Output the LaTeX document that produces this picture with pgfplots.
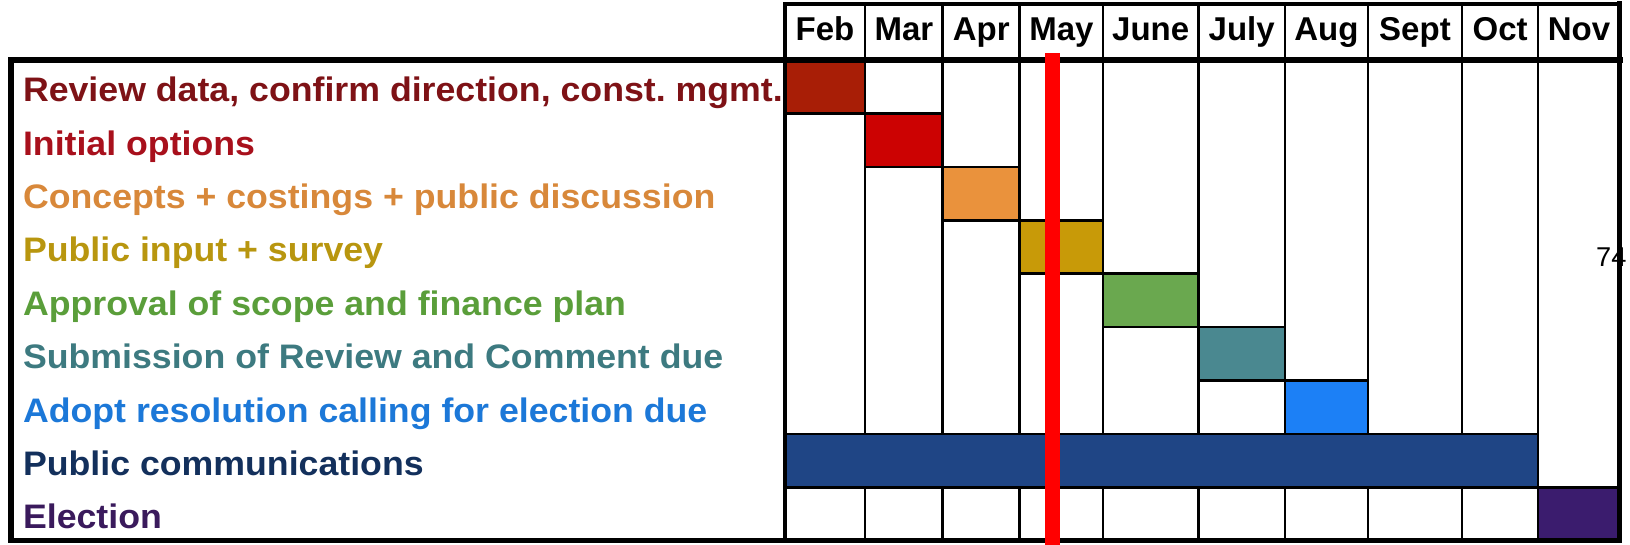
\documentclass[border=0pt]{standalone}
\usepackage{fontspec}
\setmainfont{Liberation Sans}
\newfontfamily\lab[FakeStretch=1.05]{Liberation Sans}
\usepackage{pgfplots}
\pgfplotsset{compat=1.18}
\frenchspacing
\definecolor{b1}{HTML}{A81E06}
\definecolor{b2}{HTML}{CC0202}
\definecolor{b3}{HTML}{EA923C}
\definecolor{b4}{HTML}{C89A08}
\definecolor{b5}{HTML}{6AA84F}
\definecolor{b6}{HTML}{4A8890}
\definecolor{b7}{HTML}{1C80F6}
\definecolor{b8}{HTML}{1F4585}
\definecolor{b9}{HTML}{3B1C6E}
\definecolor{t1}{HTML}{7E1216}
\definecolor{t2}{HTML}{A8101C}
\definecolor{t3}{HTML}{D8883A}
\definecolor{t4}{HTML}{B8960F}
\definecolor{t5}{HTML}{5A9E3A}
\definecolor{t6}{HTML}{3D7A80}
\definecolor{t7}{HTML}{1C78D8}
\definecolor{t8}{HTML}{13305C}
\definecolor{t9}{HTML}{3A1A5C}
\begin{document}
\begin{tikzpicture}
\begin{axis}[x=41.75pt, y=26.7pt, y dir=reverse,
  xmin=0, xmax=10, ymin=-1.05, ymax=9,
  axis lines=none, clip=false, ticks=none]
% column separators
\addplot[black, line width=1.3pt, mark=none] coordinates {(0.96,-1.05) (0.96,9)};
\addplot[black, line width=1.3pt, mark=none] coordinates {(1.89,-1.05) (1.89,9)};
\addplot[black, line width=1.3pt, mark=none] coordinates {(2.81,-1.05) (2.81,9)};
\addplot[black, line width=1.3pt, mark=none] coordinates {(3.81,-1.05) (3.81,9)};
\addplot[black, line width=1.3pt, mark=none] coordinates {(4.95,-1.05) (4.95,9)};
\addplot[black, line width=1.3pt, mark=none] coordinates {(5.99,-1.05) (5.99,9)};
\addplot[black, line width=1.3pt, mark=none] coordinates {(6.98,-1.05) (6.98,9)};
\addplot[black, line width=1.3pt, mark=none] coordinates {(8.11,-1.05) (8.11,9)};
\addplot[black, line width=1.3pt, mark=none] coordinates {(9.02,-1.05) (9.02,9)};
% page number
\node[anchor=base west, inner sep=0pt, font=\fontsize{13.6pt}{15pt}\selectfont] at (axis cs:9.71,3.87) {74};
% task bars
\addplot[fill=b1, draw=black, line width=1.3pt, mark=none] coordinates {(0,0) (0.96,0) (0.96,1) (0,1)} -- cycle;
\addplot[fill=b2, draw=black, line width=1.3pt, mark=none] coordinates {(0.96,1) (1.89,1) (1.89,2) (0.96,2)} -- cycle;
\addplot[fill=b3, draw=black, line width=1.3pt, mark=none] coordinates {(1.89,2) (2.81,2) (2.81,3) (1.89,3)} -- cycle;
\addplot[fill=b4, draw=black, line width=1.3pt, mark=none] coordinates {(2.81,3) (3.81,3) (3.81,4) (2.81,4)} -- cycle;
\addplot[fill=b5, draw=black, line width=1.3pt, mark=none] coordinates {(3.81,4) (4.95,4) (4.95,5) (3.81,5)} -- cycle;
\addplot[fill=b6, draw=black, line width=1.3pt, mark=none] coordinates {(4.95,5) (5.99,5) (5.99,6) (4.95,6)} -- cycle;
\addplot[fill=b7, draw=black, line width=1.3pt, mark=none] coordinates {(5.99,6) (6.98,6) (6.98,7) (5.99,7)} -- cycle;
\addplot[fill=b8, draw=black, line width=1.3pt, mark=none] coordinates {(0,7) (9.02,7) (9.02,8) (0,8)} -- cycle;
\addplot[fill=b9, draw=black, line width=1.3pt, mark=none] coordinates {(9.02,8) (10,8) (10,9) (9.02,9)} -- cycle;
% frames
\addplot[black, line width=1.8pt, line cap=rect, mark=none] coordinates {(0,-1.05) (10,-1.05)};
\addplot[black, line width=2.3pt, line cap=rect, mark=none] coordinates {(0,-1.05) (0,9)};
\addplot[black, line width=2.5pt, line cap=rect, mark=none] coordinates {(10,-1.05) (10,9)};
\addplot[black, line width=2.7pt, line cap=rect, mark=none] coordinates {(-9.267,0) (10,0)};
\addplot[black, line width=2.8pt, line cap=rect, mark=none] coordinates {(-9.267,0) (-9.267,9)};
\addplot[black, line width=2.3pt, line cap=rect, mark=none] coordinates {(-9.267,9) (10,9)};
% month labels
\begin{scope}[every node/.style={anchor=base, inner sep=0pt, font=\fontsize{16.5pt}{18pt}\selectfont\bfseries}]
\node at (axis cs:0.48,-0.36) {Feb};
\node at (axis cs:1.425,-0.36) {Mar};
\node at (axis cs:2.35,-0.36) {Apr};
\node at (axis cs:3.31,-0.36) {May};
\node at (axis cs:4.38,-0.36) {June};
\node at (axis cs:5.47,-0.36) {July};
\node at (axis cs:6.485,-0.36) {Aug};
\node at (axis cs:7.545,-0.36) {Sept};
\node at (axis cs:8.565,-0.36) {Oct};
\node at (axis cs:9.51,-0.36) {Nov};
\end{scope}
% task labels
\begin{scope}[every node/.style={anchor=base west, inner sep=0pt, font=\lab\fontsize{17pt}{20pt}\selectfont\bfseries}]
\node[text=t1] at (axis cs:-9.13,0.78) {Review data, confirm direction, const. mgmt.};
\node[text=t2] at (axis cs:-9.13,1.78) {Initial options};
\node[text=t3] at (axis cs:-9.13,2.78) {Concepts + costings + public discussion};
\node[text=t4] at (axis cs:-9.13,3.78) {Public input + survey};
\node[text=t5] at (axis cs:-9.13,4.78) {Approval of scope and finance plan};
\node[text=t6] at (axis cs:-9.13,5.78) {Submission of Review and Comment due};
\node[text=t7] at (axis cs:-9.13,6.78) {Adopt resolution calling for election due};
\node[text=t8] at (axis cs:-9.13,7.78) {Public communications};
\node[text=t9] at (axis cs:-9.13,8.78) {Election};
\end{scope}
% current-date marker
\addplot[red, line width=7.5pt, mark=none] coordinates {(3.20,-0.13) (3.20,9.3)};
\coordinate (bbA) at (axis cs:-9.401,-1.124);
\coordinate (bbB) at (axis cs:10.12,9.064);
\end{axis}
\pgfresetboundingbox
\path (bbA) rectangle (bbB);
\end{tikzpicture}
\end{document}
